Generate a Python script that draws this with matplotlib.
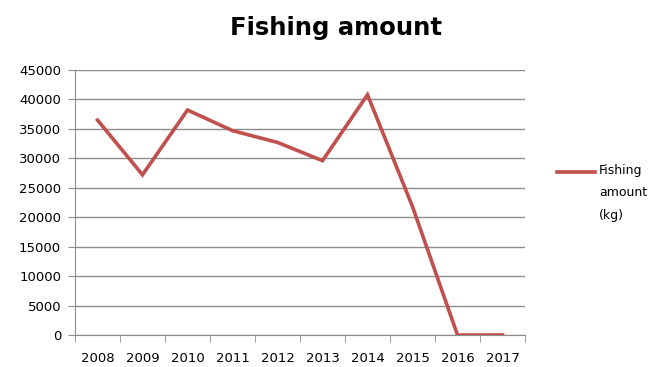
import numpy as np
import matplotlib.pyplot as plt
from matplotlib.lines import Line2D

# Yearly catch, kg
years = ['2008', '2009', '2010', '2011', '2012',
         '2013', '2014', '2015', '2016', '2017']
catch_kg = [36500, 27200, 38200, 34700, 32700,
            29600, 40800, 21800, 0, 0]
y_ticks = [0, 5000, 10000, 15000, 20000, 25000, 30000, 35000, 40000, 45000]
series_name = 'Fishing\namount\n(kg)'

line_col = '#C0504D'
grid_col = '#8C8C8C'

plt.rcParams['font.family'] = ['DejaVu Sans']

fig = plt.figure(figsize=(6.59, 3.67), dpi=100)
ax = fig.add_axes([75/659, 1 - 335/367, 450/659, 265/367])

x = np.arange(len(years))
ax.plot(x, catch_kg, color=line_col, lw=2.6, solid_joinstyle='miter')

ax.set_xlim(-0.5, len(years) - 0.5)
ax.set_ylim(0, 45000)
ax.set_yticks(y_ticks)
ax.set_yticklabels([str(v) for v in y_ticks], fontsize=9.5)
ax.yaxis.grid(True, color=grid_col, lw=1)
ax.set_axisbelow(True)

# category labels centred, tick marks on the boundaries
ax.set_xticks(x)
ax.set_xticklabels(years, fontsize=9.5)
ax.tick_params(axis='x', length=0, pad=12)
ax.set_xticks(np.arange(-0.5, len(years)), minor=True)
ax.tick_params(axis='x', which='minor', length=5, color=grid_col)
ax.tick_params(axis='y', length=5, color=grid_col, pad=5)

for s in ['top', 'right']:
    ax.spines[s].set_visible(False)
for s in ['left', 'bottom']:
    ax.spines[s].set_color(grid_col)

fig.text(336/659, 1 - 28/367, 'Fishing amount', ha='center', va='center',
         fontsize=17.5, fontweight='bold')

# legend key on the right, line level with the first text row
fig.add_artist(Line2D([557/659, 595/659], [1 - 172/367, 1 - 172/367],
                      color=line_col, lw=2.6, transform=fig.transFigure))
fig.text(599/659, 1 - 164/367, series_name, ha='left', va='top',
         fontsize=9, linespacing=1.95)

fig.savefig('out.png', dpi=100)
